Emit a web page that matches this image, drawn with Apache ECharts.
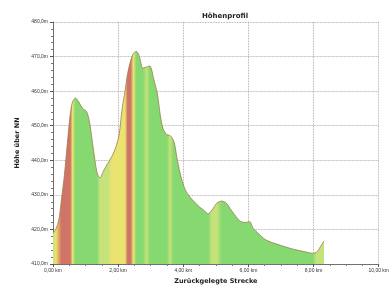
<!DOCTYPE html>
<html lang="de">
<head>
    <meta charset="UTF-8">
    <title>Höhenprofil</title>
    <style>
        *{ padding: 0; margin: 0; }
        body{ background: #fff; }
        #main{ width: 392px; height: 290px; }
    </style>
</head>
<body>
<div id="main"></div>
<script src="https://cdn.jsdelivr.net/npm/echarts@6/dist/echarts.min.js"></script>
<script type="text/javascript">
    // Strecke in km, Höhe in m, Belastungsstufe (0 = gering ... 4 = hoch)
    var distKm = [0.00, 0.09, 0.18, 0.26, 0.35, 0.44, 0.53, 0.60, 0.69, 0.79, 0.91, 1.03, 1.12, 1.24, 1.35, 1.44,
        1.56, 1.68, 1.82, 1.94, 2.03, 2.12, 2.21, 2.29, 2.38, 2.47, 2.56, 2.65, 2.76, 2.88, 2.97, 3.09, 3.21,
        3.29, 3.38, 3.50, 3.59, 3.71, 3.82, 3.94, 4.06, 4.21, 4.35, 4.50, 4.65, 4.76, 4.88, 5.03, 5.18, 5.32,
        5.47, 5.62, 5.76, 5.91, 6.03, 6.15, 6.32, 6.53, 6.82, 7.12, 7.41, 7.71, 7.97, 8.09, 8.21, 8.32];
    var hoehe = [418.9, 420.1, 422.8, 428.7, 435.7, 444.9, 453.3, 456.9, 458.0, 456.9, 455.0, 454.1, 451.1, 443.2,
        436.5, 434.9, 437.1, 439.1, 441.3, 444.1, 447.4, 454.7, 460.0, 465.0, 468.7, 470.9, 471.5, 470.1, 466.7,
        467.0, 467.3, 463.6, 458.9, 453.3, 449.1, 447.4, 447.2, 445.5, 439.9, 434.9, 431.5, 429.3, 427.9, 426.5,
        425.4, 424.5, 425.6, 427.6, 428.2, 427.6, 425.6, 423.7, 422.3, 422.0, 422.3, 420.3, 418.7, 417.0, 415.9,
        415.0, 414.2, 413.6, 413.1, 413.4, 415.0, 416.7];
    var stufe = [1, 2, 3, 4, 4, 4, 4, 2, 0, 0, 0, 0, 0, 0, 0, 1,
        1, 1, 2, 2, 2, 2, 2, 4, 4, 2, 0, 0, 0, 1, 0, 0, 0,
        0, 0, 0, 1, 0, 0, 0, 0, 0, 0, 0, 0, 0, 1, 1, 0, 0,
        0, 0, 0, 0, 0, 0, 0, 0, 0, 0, 0, 0, 0, 1, 1, 1];
    var xTicks = [0, 2, 4, 6, 8, 10];
    var yTicks = [410, 420, 430, 440, 450, 460, 470, 480];

    var stufenFarben = ['#86d870', '#c6e27a', '#ebe36f', '#e0a463', '#cf7466'];
    var total = distKm[distKm.length - 1];
    var stops = distKm.map(function (d, i) {
        return { offset: d / total, color: stufenFarben[stufe[i]] };
    });

    var data = distKm.map(function (d, i) { return [d, hoehe[i]]; });

    var myChart = echarts.init(document.getElementById('main'));
    var option = {
        animation: false,
        backgroundColor: '#fff',
        title: {
            text: 'Höhenprofil',
            left: 220,
            top: 8,
            textAlign: 'center',
            textStyle: { fontSize: 7, fontWeight: 'bold', color: '#222', fontFamily: 'DejaVu Sans' }
        },
        grid: { left: 53, top: 22, width: 340, height: 250 },
        xAxis: {
            type: 'value',
            min: 0, max: 10, interval: 2,
            name: 'Zurückgelegte Strecke',
            nameLocation: 'middle',
            nameGap: 14,
            nameTextStyle: { fontSize: 6.5, fontWeight: 'bold', color: '#222', fontFamily: 'DejaVu Sans' },
            axisLine: { lineStyle: { color: '#555', width: 0.8 } },
            axisTick: { length: 3, lineStyle: { color: '#555' } },
            minorTick: { show: true, splitNumber: 4, length: 2, lineStyle: { color: '#777' } },
            axisLabel: {
                fontSize: 5, color: '#333', margin: 4,
                formatter: function (v) { return xTicks.indexOf(v) >= 0 ? v.toFixed(2).replace('.', ',') + ' km' : ''; }
            },
            splitLine: { show: true, lineStyle: { color: '#999', type: 'dotted', width: 0.8 } }
        },
        yAxis: {
            type: 'value',
            min: 410, max: 480, interval: 10,
            name: 'Höhe über NN',
            nameLocation: 'middle',
            nameGap: 28,
            nameTextStyle: { fontSize: 6.5, fontWeight: 'bold', color: '#222', fontFamily: 'DejaVu Sans' },
            axisLine: { show: true, lineStyle: { color: '#555', width: 0.8 } },
            axisTick: { show: true, length: 3, lineStyle: { color: '#555' } },
            minorTick: { show: true, splitNumber: 5, length: 2, lineStyle: { color: '#777' } },
            axisLabel: {
                fontSize: 5, color: '#333', margin: 5,
                formatter: function (v) { return yTicks.indexOf(v) >= 0 ? v.toFixed(1).replace('.', ',') + 'm' : ''; }
            },
            splitLine: { show: true, lineStyle: { color: '#999', type: 'dotted', width: 0.8 } }
        },
        series: [{
            type: 'line',
            data: data,
            symbol: 'none',
            smooth: 0.3,
            lineStyle: { color: '#9c7b4f', width: 0.8 },
            areaStyle: {
                opacity: 1,
                origin: 'start',
                color: new echarts.graphic.LinearGradient(0, 0, 1, 0, stops)
            }
        }]
    };
    myChart.setOption(option);
</script>
</body>
</html>
